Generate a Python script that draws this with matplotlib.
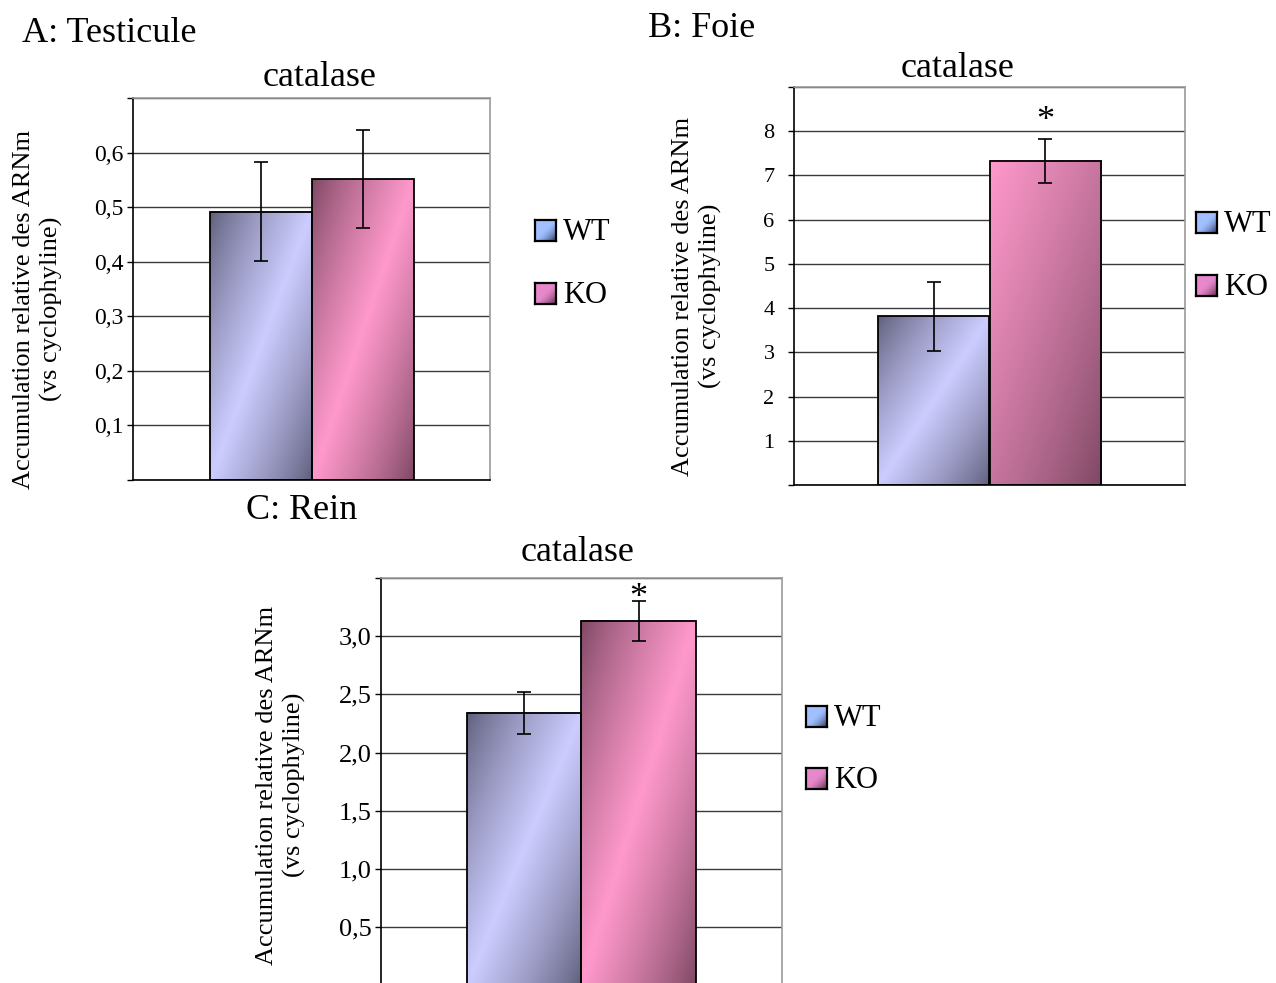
import numpy as np
import matplotlib
matplotlib.use("Agg")
import matplotlib.pyplot as plt
from matplotlib.ticker import MultipleLocator, FuncFormatter

plt.rcParams["font.family"] = ["Liberation Serif", "DejaVu Serif"]

W, H = 1276, 983

groups = ["WT", "KO"]

# A: testicule
testicule_vals = [0.492, 0.551]
testicule_err = [0.090, 0.090]
testicule_sig = ["", ""]

# B: foie
foie_vals = [3.82, 7.33]
foie_err = [0.78, 0.49]
foie_sig = ["", "*"]

# C: rein
rein_vals = [2.34, 3.13]
rein_err = [0.18, 0.17]
rein_sig = ["", "*"]

gene = "catalase"
ylabel = "Accumulation relative des ARNm\n(vs cyclophyline)"

WT_LIGHT = np.array([204, 204, 255]) / 255
WT_DARK = np.array([92, 92, 120]) / 255
KO_LIGHT = np.array([255, 153, 204]) / 255
KO_DARK = np.array([122, 70, 96]) / 255


def px_x(p):
    return p / W


def px_y(p):
    return 1 - p / H


def gradient(light, dark, mode, n=200):
    # excel-like diagonal shading, t=0 top-left, t=1 bottom-right
    u, v = np.meshgrid(np.linspace(0, 1, n), np.linspace(0, 1, n))
    t = (u + v) / 2
    if mode == "center":
        s = 1 - np.abs(2 * t - 1)
    else:
        s = 1 - t
    s = s ** 0.8
    return dark + (light - dark) * s[..., None]


def legend_grad(light, dark, n=40):
    u, v = np.meshgrid(np.linspace(0, 1, n), np.linspace(0, 1, n))
    t = (u + v) / 2
    d = np.clip((t - 0.45) / 0.55, 0, 1) ** 1.6
    return light + (dark - light) * d[..., None]


fig = plt.figure(figsize=(W / 100, H / 100), dpi=100)


def panel(box, vals, errs, sig, ymax, step, fmt, modes, tick_size, tick_pad, star_off):
    left, top, right, bottom = box
    ax = fig.add_axes([px_x(left), px_y(bottom), (right - left) / W, (bottom - top) / H])
    x = np.arange(len(groups))
    bars = ax.bar(x, vals, width=1.0, facecolor="none", edgecolor="black",
                  linewidth=1.3, zorder=3)
    for bar, (light, dark), mode in zip(bars, [(WT_LIGHT, WT_DARK), (KO_LIGHT, KO_DARK)], modes):
        x0, w, h = bar.get_x(), bar.get_width(), bar.get_height()
        ax.imshow(gradient(light, dark, mode), extent=(x0, x0 + w, 0, h),
                  aspect="auto", zorder=2, interpolation="bilinear")
    ax.errorbar(x, vals, yerr=errs, fmt="none", ecolor="black", elinewidth=1.2,
                capsize=5, capthick=1.2, zorder=4)
    for xi, v, e, s in zip(x, vals, errs, sig):
        if s:
            ax.annotate(s, (xi, v + e), xytext=(0, star_off), textcoords="offset points",
                        ha="center", va="center", fontsize=26)
    ax.set_xlim(-1.25, 2.25)
    ax.set_ylim(0, ymax)
    ax.set_xticks([])
    ax.yaxis.set_major_locator(MultipleLocator(step))
    ax.yaxis.set_major_formatter(FuncFormatter(
        lambda v, p: "" if v < step / 2 or v > ymax - step / 2 else fmt(v)))
    ax.tick_params(axis="y", direction="out", length=4, width=1, labelsize=tick_size, pad=tick_pad)
    ax.grid(axis="y", color="#3a3a3a", linewidth=1)
    ax.set_axisbelow(True)
    for side in ["left", "bottom"]:
        ax.spines[side].set_color("black")
        ax.spines[side].set_linewidth(1.2)
    for side in ["top", "right"]:
        ax.spines[side].set_color("#9a9a9a")
        ax.spines[side].set_linewidth(1.2)
    return ax


def comma(v):
    return f"{v:.1f}".replace(".", ",")


def legend(x, y_first, gap):
    colors = [(np.array([160, 192, 255]) / 255, np.array([40, 50, 90]) / 255),
              (np.array([232, 136, 204]) / 255, np.array([90, 40, 70]) / 255)]
    for i, (name, (light, dark)) in enumerate(zip(groups, colors)):
        y = y_first + i * gap
        lax = fig.add_axes([px_x(x), px_y(y + 21), 21 / W, 21 / H])
        lax.imshow(legend_grad(light, dark), aspect="auto", interpolation="bilinear")
        lax.set_xticks([])
        lax.set_yticks([])
        for sp in lax.spines.values():
            sp.set_linewidth(1.6)
        fig.text(px_x(x + 28), px_y(y + 20), name, fontsize=22, ha="left", va="baseline")


# A
panel((133, 98, 490, 480), testicule_vals, testicule_err, testicule_sig, 0.7, 0.1, comma,
      ["center", "center"], 17, 3, 0)
fig.text(px_x(22), px_y(42), "A: Testicule", fontsize=26, ha="left", va="baseline")
fig.text(px_x(320), px_y(86), gene, fontsize=26, ha="center", va="baseline")
fig.text(px_x(38), px_y(309), ylabel, fontsize=19, rotation=90, ha="center", va="center",
         multialignment="center", linespacing=1.3)
legend(535, 220, 63)

# B
panel((794, 87, 1185, 485), foie_vals, foie_err, foie_sig, 9, 1, lambda v: f"{v:.0f}",
      ["center", "linear"], 16, 10, 13)
fig.text(px_x(648), px_y(37), "B: Foie", fontsize=26, ha="left", va="baseline")
fig.text(px_x(958), px_y(77), gene, fontsize=26, ha="center", va="baseline")
fig.text(px_x(697), px_y(296), ylabel, fontsize=19, rotation=90, ha="center", va="center",
         multialignment="center", linespacing=1.3)
legend(1196, 212, 63)

# C
panel((381, 578, 782, 985.5), rein_vals, rein_err, rein_sig, 3.5, 0.5, comma,
      ["center", "center"], 19, 3, 2)
fig.text(px_x(246), px_y(519), "C: Rein", fontsize=26, ha="left", va="baseline")
fig.text(px_x(578), px_y(561), gene, fontsize=26, ha="center", va="baseline")
fig.text(px_x(281), px_y(785), ylabel, fontsize=19, rotation=90, ha="center", va="center",
         multialignment="center", linespacing=1.3)
legend(806, 706, 62)

fig.savefig("out.png", dpi=100)
